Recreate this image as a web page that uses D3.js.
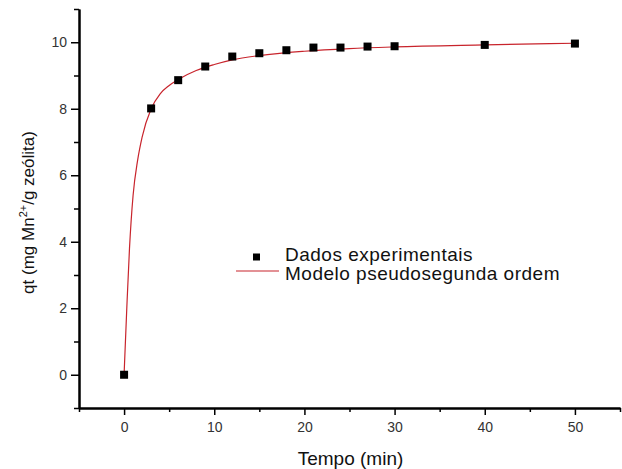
<!DOCTYPE html>
<html>
<head>
<meta charset="utf-8">
<script src="https://cdn.jsdelivr.net/npm/d3@7"></script>
<style>
  body { margin: 0; background: #fff; }
  svg { display: block; font-family: 'Liberation Sans', Arial, sans-serif; }
</style>
</head>
<body>
<div id="chart"></div>
<script>
const width = 622;
const height = 469;
const margin = { top: 9, right: 2, bottom: 61, left: 79 };

// experimental points
const tempo = [0, 3, 6, 9, 12, 15, 18, 21, 24, 27, 30, 40, 50];
const qt = [0, 8.01, 8.86, 9.27, 9.57, 9.67, 9.76, 9.84, 9.84, 9.87, 9.88, 9.92, 9.96];

// fitted curve
const modelT = [0, 0.3, 0.6, 1, 1.5, 2, 3, 4, 5, 6, 8, 10, 12, 15, 20, 25, 30, 40, 50];
const modelQ = [0, 2.0, 3.8, 5.4, 6.45, 7.15, 8.0, 8.45, 8.7, 8.88, 9.15, 9.33, 9.47, 9.6, 9.73, 9.81, 9.86, 9.92, 9.97];

const xTicks = [0, 10, 20, 30, 40, 50];
const xMinor = [-5, 5, 15, 25, 35, 45, 55];
const yTicks = [0, 2, 4, 6, 8, 10];
const yMinor = [-1, 1, 3, 5, 7, 9, 11];

const legendLabels = ['Dados experimentais', 'Modelo pseudosegunda ordem'];

const lineColor = '#c8242c';

const svg = d3
  .select('#chart')
  .append('svg')
  .attr('width', width)
  .attr('height', height);

const x = d3
  .scaleLinear()
  .domain([-5, 55])
  .range([margin.left, width - margin.right]);

const y = d3
  .scaleLinear()
  .domain([-1, 11])
  .range([height - margin.bottom, margin.top]);

// axes
const xAxis = d3.axisBottom(x).tickValues(xTicks).tickSize(7).tickSizeOuter(0);
const xAxisMinor = d3.axisBottom(x).tickValues(xMinor).tickSize(4).tickFormat('').tickSizeOuter(0);
const yAxis = d3.axisLeft(y).tickValues(yTicks).tickSize(8).tickSizeOuter(0);
const yAxisMinor = d3.axisLeft(y).tickValues(yMinor).tickSize(5).tickFormat('').tickSizeOuter(0);

const gx = svg.append('g').attr('transform', `translate(0,${y(-1)})`);
gx.call(xAxis);
gx.append('g').call(xAxisMinor);

const gy = svg.append('g').attr('transform', `translate(${x(-5)},0)`);
gy.call(yAxis);
gy.append('g').call(yAxisMinor);

svg.selectAll('.domain').attr('stroke', '#000').attr('stroke-width', 2);
svg.selectAll('.tick line').attr('stroke', '#000').attr('stroke-width', 1.5);
svg
  .selectAll('.tick text')
  .attr('fill', '#333')
  .style('font-size', '14px')
  .style('font-family', 'Liberation Sans, Arial, sans-serif');
gx.selectAll('.tick text').attr('y', 10).attr('dy', '1em');
gy.selectAll('.tick text').attr('x', -12);

// axis titles
svg
  .append('text')
  .attr('x', (x(-5) + x(55)) / 2 + 1)
  .attr('y', 465)
  .attr('text-anchor', 'middle')
  .style('font-size', '19px')
  .attr('fill', '#111')
  .text('Tempo (min)');

const yTitle = svg
  .append('text')
  .attr('transform', `translate(34,${(y(-1) + y(11)) / 2 + 4}) rotate(-90)`)
  .attr('text-anchor', 'middle')
  .style('font-size', '17px')
  .attr('fill', '#111');
yTitle.append('tspan').text('qt (mg Mn');
yTitle.append('tspan').attr('dy', -7).style('font-size', '11px').text('2+');
yTitle.append('tspan').attr('dy', 7).text('/g zeólita)');

// model curve
const line = d3
  .line()
  .x((d, i) => x(modelT[i]))
  .y((d) => y(d))
  .curve(d3.curveMonotoneX);

svg
  .append('path')
  .datum(modelQ)
  .attr('fill', 'none')
  .attr('stroke', lineColor)
  .attr('stroke-width', 1.2)
  .attr('d', line);

// experimental points
const sq = 8;
svg
  .append('g')
  .selectAll('rect')
  .data(qt)
  .join('rect')
  .attr('x', (d, i) => x(tempo[i]) - sq / 2)
  .attr('y', (d) => y(d) - sq / 2)
  .attr('width', sq)
  .attr('height', sq)
  .attr('fill', '#000');

// legend
const legend = svg.append('g').attr('transform', 'translate(236,257)');
legend
  .append('rect')
  .attr('x', 17)
  .attr('y', -3.5)
  .attr('width', 7)
  .attr('height', 7)
  .attr('fill', '#000');
legend
  .append('line')
  .attr('x1', 0)
  .attr('x2', 43)
  .attr('y1', 14)
  .attr('y2', 14)
  .attr('stroke', lineColor)
  .attr('stroke-width', 1.2);
legend
  .selectAll('text')
  .data(legendLabels)
  .join('text')
  .attr('x', 49)
  .attr('y', (d, i) => 4 + i * 19)
  .style('font-size', '19px')
  .style('letter-spacing', '0.5px')
  .attr('fill', '#111')
  .text((d) => d);
</script>
</body>
</html>
